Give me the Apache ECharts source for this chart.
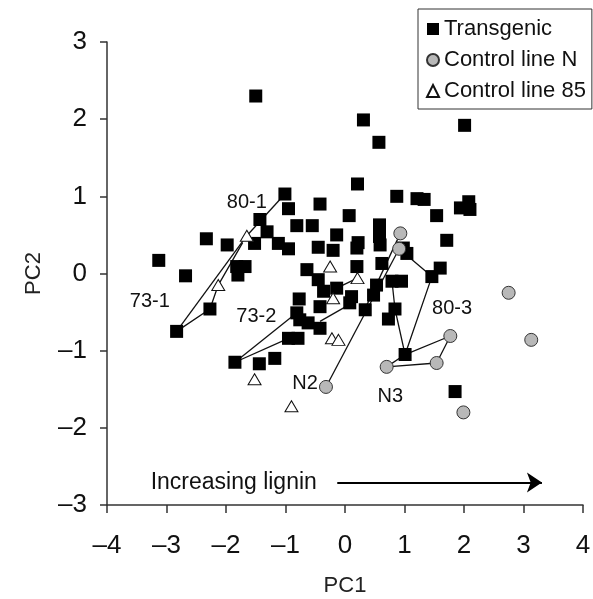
<!DOCTYPE html>
<html>
<head>
<meta charset="UTF-8">
<title>PCA</title>
<script src="https://cdn.jsdelivr.net/npm/echarts@6/dist/echarts.min.js"></script>
</head>
<body style="margin:0;background:#fff;">
<div id="chart" style="width:593px;height:599px;"></div>
<script>
// 数据
var transgenic = [
  [-1.50, 2.30], [0.31, 1.99], [0.57, 1.70], [2.01, 1.92], [0.21, 1.16],
  [0.87, 1.00], [1.21, 0.97], [1.33, 0.96], [1.54, 0.75], [1.94, 0.85],
  [2.08, 0.93], [2.10, 0.83], [-1.01, 1.03], [-0.95, 0.84], [-0.42, 0.90],
  [0.07, 0.75], [-1.43, 0.70], [-0.81, 0.62], [-0.55, 0.62], [-1.31, 0.54],
  [-2.33, 0.45], [-1.98, 0.37], [-1.52, 0.39], [-1.12, 0.39], [-0.95, 0.32],
  [-0.14, 0.50], [0.22, 0.40], [0.20, 0.33], [0.58, 0.63], [0.58, 0.48],
  [0.59, 0.37], [1.71, 0.43], [-0.45, 0.34], [-0.20, 0.30], [0.98, 0.33],
  [1.04, 0.26], [-3.13, 0.17], [-2.68, -0.03], [-1.82, 0.09], [-1.68, 0.09],
  [-1.80, -0.02], [-2.27, -0.46], [-2.83, -0.75], [-0.64, 0.05], [-0.45, -0.08],
  [0.20, 0.09], [0.62, 0.13], [1.60, 0.07], [1.46, -0.04], [0.79, -0.10],
  [0.95, -0.10], [-0.14, -0.19], [0.11, -0.30], [0.48, -0.28], [0.53, -0.15],
  [0.34, -0.47], [0.08, -0.38], [-0.77, -0.33], [-0.42, -0.43], [-0.81, -0.51],
  [-0.76, -0.60], [-0.62, -0.64], [-0.42, -0.71], [-0.95, -0.84], [-0.79, -0.84],
  [0.84, -0.46], [0.73, -0.59], [1.01, -1.05], [1.85, -1.53], [-1.85, -1.15],
  [-1.44, -1.17], [-1.18, -1.10], [-0.36, -0.23]
];
var controlN = [
  [0.93, 0.52], [0.91, 0.32], [-0.32, -1.47], [0.70, -1.21], [1.54, -1.16],
  [1.77, -0.81], [2.75, -0.25], [3.13, -0.86], [1.99, -1.80]
];
var control85 = [
  [-1.65, 0.49], [-2.13, -0.15], [-0.25, 0.09], [0.21, -0.06], [-0.20, -0.32],
  [-0.22, -0.84], [-0.11, -0.86], [-1.52, -1.37], [-0.90, -1.72]
];
// 连线
var links = [
  [[-2.83, -0.75], [-1.65, 0.49]],
  [[-2.83, -0.75], [-2.27, -0.46], [-2.13, -0.15], [-1.72, 0.40]],
  [[-1.01, 1.03], [-1.65, 0.49]],
  [[-1.85, -1.15], [-0.81, -0.51]],
  [[-1.85, -1.15], [-0.95, -0.84]],
  [[-0.42, -0.62], [0.08, -0.40]],
  [[-0.14, -0.19], [0.21, -0.06], [0.20, 0.09]],
  [[-0.32, -1.47], [0.91, 0.32]],
  [[0.30, -0.52], [0.93, 0.52]],
  [[0.91, 0.32], [1.46, -0.04], [1.01, -1.05], [0.84, -0.46], [0.79, -0.10]],
  [[0.70, -1.21], [1.54, -1.16], [1.77, -0.81], [1.01, -1.05], [0.70, -1.21]]
];
var labelNames = ['80-1', '73-1', '73-2', 'N2', 'N3', '80-3'];
var labelPos = [[-1.65, 0.92], [-3.28, -0.36], [-1.49, -0.56], [-0.67, -1.42], [0.76, -1.60], [1.80, -0.45]];
var arrowText = 'Increasing lignin';
var arrowTextPos = [-1.87, -2.71];
var arrowFrom = [-0.13, -2.71];
var arrowTo = [3.31, -2.71];
var xTicks = [-4, 4, 1];
var yTicks = [-3, 3, 1];

var font = 'Liberation Sans, Arial, sans-serif';
function dash(v) { return v < 0 ? '\u2013' + Math.abs(v) : String(v); }

var series = [];
links.forEach(function (p) {
  series.push({
    type: 'line', data: p, symbol: 'none', silent: true,
    lineStyle: { color: '#111', width: 1.3 }, z: 1
  });
});
series.push({
  name: 'Transgenic', type: 'scatter', data: transgenic, symbol: 'rect', symbolSize: 13,
  itemStyle: { color: '#000', opacity: 1 }, z: 3
});
series.push({
  name: 'Control line N', type: 'scatter', data: controlN, symbol: 'circle', symbolSize: 13,
  itemStyle: { color: '#b8b8b8', borderColor: '#333', borderWidth: 1, opacity: 1 }, z: 4
});
series.push({
  name: 'Control line 85', type: 'scatter', data: control85, symbol: 'triangle', symbolSize: [13, 11],
  itemStyle: { color: '#fff', borderColor: '#111', borderWidth: 1, opacity: 1 }, z: 4
});
var labelData = labelNames.map(function (n, i) { return { name: n, value: labelPos[i] }; });
labelData.push({ name: arrowText, value: arrowTextPos, label: { fontSize: 23 } });
series.push({
  type: 'scatter', data: labelData, symbolSize: 0, silent: true, z: 5,
  itemStyle: { opacity: 1, color: '#000' },
  label: {
    show: true, position: 'inside', formatter: '{b}',
    color: '#111', fontSize: 20, fontFamily: font, opacity: 1
  }
});
// 箭头
series.push({
  type: 'line', data: [], silent: true, z: 5,
  itemStyle: { color: '#000' },
  markLine: {
    silent: true, symbol: ['none', 'arrow'], symbolSize: 15,
    label: { show: false },
    itemStyle: { color: '#000' },
    lineStyle: { color: '#000', width: 2, type: 'solid', opacity: 1 },
    data: [[{ coord: arrowFrom }, { coord: arrowTo }]]
  }
});

var option = {
  animation: false,
  grid: { left: 107, right: 10, top: 42, bottom: 94, outerBoundsMode: 'none' },
  legend: {
    data: [
      { name: 'Transgenic', icon: 'rect' },
      { name: 'Control line N', icon: 'circle' },
      { name: 'Control line 85', icon: 'triangle' }
    ],
    orient: 'vertical', left: 418, top: 9,
    padding: [9, 6, 7, 8], itemGap: 9, itemWidth: 12, itemHeight: 12,
    borderColor: '#333', borderWidth: 1, backgroundColor: '#fff',
    textStyle: { fontSize: 22, color: '#111', fontFamily: font }
  },
  xAxis: {
    type: 'value', min: xTicks[0], max: xTicks[1], interval: xTicks[2],
    name: 'PC1', nameLocation: 'middle', nameGap: 70,
    nameTextStyle: { fontSize: 22, color: '#222', fontFamily: font },
    axisLine: { onZero: false, lineStyle: { color: '#333', width: 1.5 } },
    axisTick: { show: true, length: 8, lineStyle: { color: '#333', width: 1.5 } },
    axisLabel: { margin: 28, fontSize: 26, color: '#111', fontFamily: font, formatter: dash },
    splitLine: { show: false }
  },
  yAxis: {
    type: 'value', min: yTicks[0], max: yTicks[1], interval: yTicks[2],
    name: 'PC2', nameLocation: 'middle', nameGap: 62,
    nameTextStyle: { fontSize: 22, color: '#222', fontFamily: font },
    axisLine: { show: true, onZero: false, lineStyle: { color: '#333', width: 1.5 } },
    axisTick: { show: true, length: 7, lineStyle: { color: '#333', width: 1.5 } },
    axisLabel: { margin: 20, fontSize: 26, color: '#111', fontFamily: font, formatter: dash },
    splitLine: { show: false }
  },
  series: series
};

var myChart = echarts.init(document.getElementById('chart'));
myChart.setOption(option);
</script>
</body>
</html>
